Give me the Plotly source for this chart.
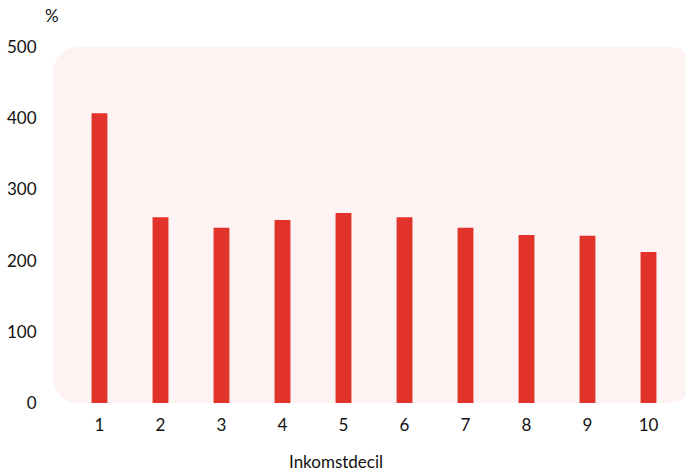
import plotly.graph_objects as go

categories = ["1", "2", "3", "4", "5", "6", "7", "8", "9", "10"]
values = [407, 261, 246, 257, 267, 261, 246, 236, 235, 212]
y_ticks = [0, 100, 200, 300, 400, 500]

W, H = 686, 476
ML, MR, MT, MB = 67, 7, 47, 73
PW, PH = W - ML - MR, H - MT - MB


def px(x):
    return (x - ML) / PW


def py(y):
    return (H - MB - y) / PH


def rounded_rect(x0, y0, x1, y1, rl, rr):
    k = 0.5523
    pts = []
    pts.append(f"M {px(x0 + rl)},{py(y0)}")
    pts.append(f"L {px(x1 - rr)},{py(y0)}")
    pts.append(f"C {px(x1 - rr + k*rr)},{py(y0)} {px(x1)},{py(y0 + rr - k*rr)} {px(x1)},{py(y0 + rr)}")
    pts.append(f"L {px(x1)},{py(y1 - rr)}")
    pts.append(f"C {px(x1)},{py(y1 - rr + k*rr)} {px(x1 - rr + k*rr)},{py(y1)} {px(x1 - rr)},{py(y1)}")
    pts.append(f"L {px(x0 + rl)},{py(y1)}")
    pts.append(f"C {px(x0 + rl - k*rl)},{py(y1)} {px(x0)},{py(y1 - rl + k*rl)} {px(x0)},{py(y1 - rl)}")
    pts.append(f"L {px(x0)},{py(y0 + rl)}")
    pts.append(f"C {px(x0)},{py(y0 + rl - k*rl)} {px(x0 + rl - k*rl)},{py(y0)} {px(x0 + rl)},{py(y0)}")
    pts.append("Z")
    return " ".join(pts)


font_family = "Lato, 'Open Sans', sans-serif"

fig = go.Figure()
fig.add_trace(go.Bar(
    x=categories, y=values,
    marker=dict(color="#e1332a", line=dict(width=0)),
    width=0.26,
    hoverinfo="x+y",
))

fig.add_shape(
    type="path", xref="paper", yref="paper",
    path=rounded_rect(51, 47, 692, 403, 25, 22),
    fillcolor="#fdf3f2", line=dict(width=0), layer="below",
)

fig.update_layout(
    width=W, height=H,
    margin=dict(l=ML, r=MR, t=MT, b=MB, pad=0),
    paper_bgcolor="white", plot_bgcolor="rgba(0,0,0,0)",
    font=dict(family=font_family, size=17, color="#111111"),
    showlegend=False,
    bargap=0.74,
    xaxis=dict(
        type="category", range=[-0.5, 9.5],
        showgrid=False, zeroline=False, showline=False,
        ticks="outside", ticklen=7, tickcolor="rgba(0,0,0,0)",
        tickfont=dict(size=17),
    ),
    yaxis=dict(
        range=[0, 500], tickvals=y_ticks,
        showgrid=False, zeroline=False, showline=False,
        ticks="outside", ticklen=28, tickcolor="rgba(0,0,0,0)",
        tickfont=dict(size=17),
    ),
    annotations=[
        dict(text="%", xref="paper", yref="paper", x=px(50), y=py(15),
             xanchor="center", yanchor="middle", showarrow=False,
             font=dict(size=17)),
        dict(text="Inkomstdecil", xref="paper", yref="paper", x=px(335), y=py(462),
             xanchor="center", yanchor="middle", showarrow=False,
             font=dict(size=17)),
    ],
)

fig.write_html("out.html")
